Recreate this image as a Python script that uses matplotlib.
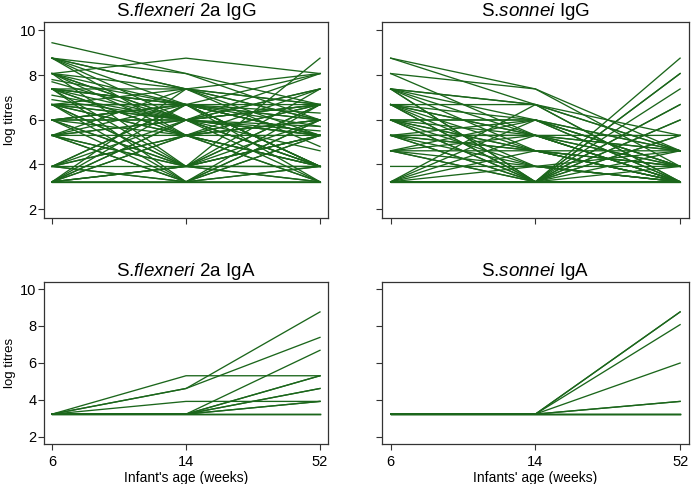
import matplotlib
matplotlib.use("Agg")
import matplotlib.pyplot as plt

plt.rcParams['font.family'] = ['Liberation Sans', 'DejaVu Sans']
plt.rcParams['mathtext.fontset'] = 'custom'
plt.rcParams['mathtext.rm'] = 'Liberation Sans'
plt.rcParams['mathtext.it'] = 'Liberation Sans:italic'

weeks = ['6', '14', '52']

# S. flexneri 2a IgG (log titres per infant at 6, 14, 52 weeks)
flex_igg_w6 = [9.45, 8.07, 8.76, 8.76, 8.76, 8.76, 8.76, 8.07, 8.07, 8.07,
               8.07, 7.80, 7.70, 7.38, 7.38, 7.38, 7.38, 7.38, 7.10, 6.68,
               6.68, 6.68, 6.68, 6.68, 6.68, 5.99, 5.99, 5.99, 5.99, 5.99,
               5.30, 5.30, 5.30, 5.30, 5.30, 5.30, 3.91, 3.91, 3.91, 3.91,
               3.91, 3.22, 3.22, 3.22, 3.22, 3.22, 3.22, 3.22, 3.22, 3.22,
               8.07, 7.38, 6.68, 5.30, 3.91, 6.68, 5.99, 8.76, 7.38, 3.22,
               6.90, 5.99, 6.68, 5.30, 7.38, 3.91, 8.07, 5.99, 3.22, 6.68,
               5.30, 7.38, 3.91, 5.99]
flex_igg_w14 = [8.07, 8.76, 8.07, 7.38, 6.68, 5.30, 7.38, 7.38, 6.68, 5.99,
                5.30, 6.68, 5.99, 6.68, 5.99, 5.30, 3.91, 3.22, 5.99, 7.38,
                5.99, 5.30, 3.91, 3.22, 6.68, 6.68, 5.30, 3.91, 3.22, 5.99,
                5.30, 6.68, 3.91, 3.22, 5.99, 7.38, 5.30, 5.99, 3.91, 6.68,
                3.22, 3.91, 5.30, 3.22, 3.91, 5.99, 3.22, 6.68, 7.38, 3.91,
                3.91, 7.38, 3.91, 3.91, 3.22, 5.99, 6.68, 5.99, 6.68, 5.30,
                5.99, 6.68, 5.30, 5.99, 6.68, 5.30, 5.99, 3.91, 5.99, 6.68,
                3.22, 5.30, 6.68, 5.99]
flex_igg_w52 = [6.68, 8.07, 5.99, 5.30, 5.99, 3.91, 4.80, 6.68, 5.30, 3.91,
                5.99, 5.70, 5.30, 3.22, 8.07, 6.68, 5.99, 5.30, 3.91, 8.07,
                6.68, 3.22, 7.38, 3.91, 5.99, 3.91, 7.38, 5.30, 5.99, 5.30,
                3.91, 8.07, 6.68, 3.22, 7.38, 5.99, 5.99, 3.22, 3.91, 5.30,
                6.68, 8.76, 5.30, 3.91, 3.22, 6.68, 3.22, 3.91, 5.99, 5.30,
                3.22, 6.68, 5.30, 3.91, 5.30, 4.61, 6.68, 5.30, 3.91, 3.22,
                5.70, 6.30, 3.91, 6.68, 5.30, 5.99, 3.91, 6.68, 5.50, 3.91,
                5.99, 6.68, 5.30, 7.38]

# S. sonnei IgG
sonn_igg_w6 = [8.76, 8.76, 8.07, 8.07, 7.38, 7.38, 7.38, 7.38, 7.38, 6.68,
               6.68, 6.68, 6.68, 6.68, 6.68, 5.99, 5.99, 5.99, 5.99, 5.99,
               5.99, 5.30, 5.30, 5.30, 5.30, 5.30, 5.30, 4.61, 4.61, 4.61,
               4.61, 4.61, 3.91, 3.22, 3.22, 3.22, 3.22, 3.22, 3.22, 3.22,
               3.22, 3.22, 5.30, 7.38, 6.68, 5.99, 4.61, 3.22, 5.30, 6.68,
               5.99, 3.22, 7.38]
sonn_igg_w14 = [7.38, 6.68, 7.38, 5.30, 6.68, 5.99, 4.61, 3.22, 6.68, 6.68,
                5.99, 5.30, 3.22, 4.61, 3.91, 5.99, 5.30, 4.61, 3.22, 3.91,
                5.99, 5.99, 5.30, 4.61, 3.22, 3.91, 5.30, 5.30, 4.61, 3.22,
                3.91, 5.99, 3.91, 3.22, 3.22, 6.68, 5.99, 5.30, 3.22, 3.22,
                4.61, 3.22, 3.22, 3.22, 3.22, 3.22, 3.22, 3.91, 4.61, 5.30,
                4.61, 3.22, 5.30]
sonn_igg_w52 = [3.91, 4.61, 4.61, 3.22, 5.30, 3.91, 3.22, 5.30, 3.22, 4.61,
                3.22, 3.91, 6.68, 3.22, 3.22, 4.61, 3.22, 3.91, 8.07, 3.22,
                3.91, 3.22, 4.61, 3.22, 5.99, 3.91, 3.22, 3.91, 3.22, 3.22,
                4.61, 4.61, 3.22, 8.76, 7.38, 3.22, 3.91, 3.22, 3.22, 4.61,
                3.91, 5.30, 8.07, 3.91, 3.22, 3.22, 5.99, 3.22, 3.91, 5.30,
                4.61, 6.68, 4.61]

# S. flexneri 2a IgA
flex_iga_w6 = [3.22, 3.22, 3.22, 3.22, 3.22, 3.22, 3.22, 3.22, 3.22, 3.22,
               3.22, 3.22, 3.22, 3.22]
flex_iga_w14 = [5.30, 4.61, 4.61, 3.91, 3.22, 3.22, 3.22, 3.22, 3.22, 3.22,
                3.22, 3.22, 3.22, 3.22]
flex_iga_w52 = [5.30, 8.76, 7.38, 3.91, 6.68, 5.30, 5.30, 4.61, 4.61, 3.91,
                3.91, 3.22, 3.22, 3.22]

# S. sonnei IgA
sonn_iga_w6 = [3.22, 3.22, 3.22, 3.22, 3.22, 3.22, 3.22, 3.22, 3.22, 3.22]
sonn_iga_w14 = [3.22, 3.22, 3.22, 3.22, 3.22, 3.22, 3.22, 3.22, 3.22, 3.22]
sonn_iga_w52 = [8.76, 8.76, 8.07, 5.99, 3.91, 3.91, 3.22, 3.22, 3.22, 3.22]

line_col = '#1b661b'

fig = plt.figure(figsize=(6.91, 4.84), dpi=100)
ax_tl = fig.add_axes([0.0637, 0.5496, 0.411, 0.405])
ax_tr = fig.add_axes([0.5528, 0.5496, 0.444, 0.405])
ax_bl = fig.add_axes([0.0637, 0.0826, 0.411, 0.3347])
ax_br = fig.add_axes([0.5528, 0.0826, 0.444, 0.3347])

panels = [
    (ax_tl, r'S.$\mathit{flexneri}$ 2a IgG', flex_igg_w6, flex_igg_w14, flex_igg_w52),
    (ax_tr, r'S.$\mathit{sonnei}$ IgG', sonn_igg_w6, sonn_igg_w14, sonn_igg_w52),
    (ax_bl, r'S.$\mathit{flexneri}$ 2a IgA', flex_iga_w6, flex_iga_w14, flex_iga_w52),
    (ax_br, r'S.$\mathit{sonnei}$ IgA', sonn_iga_w6, sonn_iga_w14, sonn_iga_w52),
]

for ax, title, w6, w14, w52 in panels:
    for a, b, c in zip(w6, w14, w52):
        ax.plot([0, 1, 2], [a, b, c], color=line_col, lw=0.95, solid_joinstyle='miter')
    ax.set_xlim(-0.06, 2.06)
    ax.set_ylim(1.6, 10.38)
    ax.set_yticks([2, 4, 6, 8, 10])
    ax.set_xticks([0, 1, 2])
    ax.set_title(title, fontsize=13.5, pad=4)
    ax.tick_params(direction='out', length=4, width=0.8, color='#333333',
                   labelsize=10.5, pad=1.5)
    ax.tick_params(axis='x', pad=4, labelsize=10.5)
    for s in ax.spines.values():
        s.set_color('#333333')
        s.set_linewidth(0.9)

# only the left column shows y labels, only the bottom row shows x labels
for ax in (ax_tr, ax_br):
    ax.set_yticklabels([])
for ax in (ax_tl, ax_tr):
    ax.set_xticklabels([])
for ax in (ax_bl, ax_br):
    ax.set_xticklabels(weeks)
for ax in (ax_tl, ax_bl):
    ax.set_ylabel('log titres', fontsize=9.5)
    ax.yaxis.set_label_coords(-0.098, 0.5)

ax_bl.set_xlabel("Infant's age (weeks)", fontsize=10, labelpad=1)
ax_br.set_xlabel("Infants' age (weeks)", fontsize=10, labelpad=1)

fig.savefig('out.png', dpi=100)
